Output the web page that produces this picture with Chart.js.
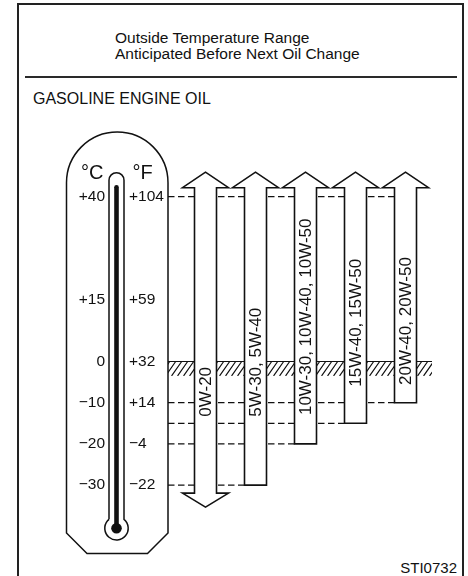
<!DOCTYPE html>
<html>
<head>
<meta charset="utf-8">
<title>Gasoline Engine Oil Viscosity</title>
<script src="https://cdn.jsdelivr.net/npm/chart.js@4.4.1/dist/chart.umd.min.js"></script>
<style>
  html, body { margin: 0; padding: 0; background: #fff; }
  body {
    width: 468px; height: 576px; position: relative; overflow: hidden;
    font-family: "Liberation Sans", Arial, Helvetica, sans-serif; color: #111;
  }
  .frame { position: absolute; left: 17px; top: 3px; width: 443px; height: 640px; border: 2px solid #222; }
  .rule { position: absolute; left: 25px; top: 76px; width: 432px; height: 0; border-top: 2px solid #2a2a2a; }
  .heading { position: absolute; left: 115px; top: 30.2px; font-size: 15.5px; line-height: 16.3px; white-space: nowrap; }
  .section { position: absolute; left: 33px; top: 90.5px; font-size: 16px; line-height: 16px; white-space: nowrap; }
  .code { position: absolute; right: 11px; top: 559.6px; font-size: 15px; line-height: 15px; }
  #chart { position: absolute; left: 0; top: 0; }
</style>
</head>
<body>
<div class="frame"></div>
<div class="heading">Outside Temperature Range<br>Anticipated Before Next Oil Change</div>
<div class="rule"></div>
<div class="section">GASOLINE ENGINE OIL</div>
<div class="code">STI0732</div>
<canvas id="chart" width="468" height="576"></canvas>

<script>
// Oil grades and the temperature span (°C) each one covers
const grades = ['0W-20', '5W-30, 5W-40', '10W-30, 10W-40, 10W-50', '15W-40, 15W-50', '20W-40, 20W-50'];
const lowC = [-30, -30, -20, -15, -10];
const highC = [40, 40, 40, 40, 40];
const extendsBelow = [true, false, false, false, false];

// Thermometer scale
const celsiusTicks = [40, 15, 0, -10, -20, -30];
const fahrenheitTicks = [104, 59, 32, 14, -4, -22];

// Hatched band under the freezing point
const hatchBand = [0, -3.5];

// Where each grade label starts inside its arrow (°C)
const labelStartC = [-13.4, -13.4, -13.0, -6.1, -5.7];

const FONT = '"Liberation Sans", Arial, Helvetica, sans-serif';
const INK = '#111';

const THERMO = {
    left: 66.5, right: 168, shoulderY: 533, footY: 553.5, footInset: 20.5,
    tubeX: 116.5, tubeHalf: 7.5, tubeTop: 172.7, columnTop: 185, columnHalf: 2.3,
    bulbY: 528.3, bulbR: 11.7, dotR: 5.3
};

const fmt = v => v > 0 ? '+' + v : (v < 0 ? '\u2212' + Math.abs(v) : '0');

function drawThermometer(ctx) {
    const t = THERMO;
    const cx = (t.left + t.right) / 2;
    const r = (t.right - t.left) / 2;
    const archY = 132 + r;

    ctx.save();
    ctx.strokeStyle = INK;
    ctx.lineWidth = 1.5;

    // body outline
    ctx.beginPath();
    ctx.moveTo(t.left, t.shoulderY);
    ctx.lineTo(t.left, archY);
    ctx.arc(cx, archY, r, Math.PI, 2 * Math.PI);
    ctx.lineTo(t.right, t.shoulderY);
    ctx.lineTo(t.right - t.footInset, t.footY);
    ctx.lineTo(t.left + t.footInset, t.footY);
    ctx.closePath();
    ctx.stroke();

    // glass tube and bulb
    const h = t.tubeHalf;
    const dy = Math.sqrt(t.bulbR * t.bulbR - h * h);
    const a = Math.atan2(-dy, h);
    ctx.beginPath();
    ctx.moveTo(t.tubeX - h, t.bulbY - dy);
    ctx.lineTo(t.tubeX - h, t.tubeTop + h);
    ctx.arc(t.tubeX, t.tubeTop + h, h, Math.PI, 2 * Math.PI);
    ctx.lineTo(t.tubeX + h, t.bulbY - dy);
    ctx.arc(t.tubeX, t.bulbY, t.bulbR, a, Math.PI - a);
    ctx.stroke();

    // mercury column
    ctx.fillStyle = INK;
    ctx.beginPath();
    ctx.arc(t.tubeX, t.columnTop + t.columnHalf, t.columnHalf, Math.PI, 2 * Math.PI);
    ctx.lineTo(t.tubeX + t.columnHalf, t.bulbY);
    ctx.lineTo(t.tubeX - t.columnHalf, t.bulbY);
    ctx.closePath();
    ctx.fill();
    ctx.beginPath();
    ctx.arc(t.tubeX, t.bulbY, t.dotR, 0, 2 * Math.PI);
    ctx.fill();

    // unit headings
    ctx.font = '20px ' + FONT;
    ctx.textBaseline = 'middle';
    ctx.textAlign = 'right';
    ctx.fillText('\u00B0C', 103.5, 173);
    ctx.textAlign = 'left';
    ctx.fillText('\u00B0F', 132.5, 173);
    ctx.restore();
}

const oilDiagram = {
    id: 'oilDiagram',
    beforeDatasetsDraw(chart) {
        const { ctx, chartArea, scales: { y } } = chart;
        const bars = chart.getDatasetMeta(0).data;
        const x0 = THERMO.right;
        const xEnd = chartArea.right + 1.5;

        drawThermometer(ctx);

        // hatched band below 0 °C
        const yTop = y.getPixelForValue(hatchBand[0]);
        const yBot = y.getPixelForValue(hatchBand[1]);
        const bh = yBot - yTop;
        ctx.save();
        ctx.beginPath();
        ctx.rect(x0, yTop, xEnd - x0, bh);
        ctx.clip();
        ctx.strokeStyle = INK;
        ctx.lineWidth = 1.2;
        ctx.beginPath();
        for (let x = x0 - bh; x < xEnd + bh; x += 6) {
            ctx.moveTo(x, yBot);
            ctx.lineTo(x + bh * 0.7, yTop);
        }
        ctx.stroke();
        ctx.restore();

        ctx.save();
        ctx.strokeStyle = INK;
        ctx.lineWidth = 1.2;
        ctx.beginPath();
        ctx.moveTo(x0, yTop);
        ctx.lineTo(xEnd, yTop);
        ctx.stroke();

        // dashed guides from the thermometer to each arrow's limit
        const reach = {};
        bars.forEach((bar, i) => {
            const left = bar.x - bar.width / 2;
            reach[highC[i]] = Math.max(reach[highC[i]] || 0, left);
            if (!extendsBelow[i]) reach[lowC[i]] = Math.max(reach[lowC[i]] || 0, left);
        });
        ctx.setLineDash([6.5, 3.5]);
        ctx.lineWidth = 1.3;
        Object.keys(reach).forEach(v => {
            const py = y.getPixelForValue(Number(v));
            ctx.beginPath();
            ctx.moveTo(x0, py);
            ctx.lineTo(reach[v], py);
            ctx.stroke();
        });
        ctx.restore();
    },
    afterDatasetsDraw(chart) {
        const { ctx, scales: { y } } = chart;
        const bars = chart.getDatasetMeta(0).data;
        ctx.save();
        ctx.strokeStyle = INK;
        ctx.lineWidth = 1.6;
        ctx.lineJoin = 'miter';
        bars.forEach((bar, i) => {
            const cx = bar.x;
            const hw = bar.width / 2;
            const top = Math.min(bar.y, bar.base);
            const bot = Math.max(bar.y, bar.base);
            const shaftTop = top - 9;
            const shaftBot = extendsBelow[i] ? bot + 8 : bot;
            const headHalf = 23;

            ctx.beginPath();
            ctx.moveTo(cx - hw, shaftBot);
            ctx.lineTo(cx - hw, shaftTop);
            ctx.lineTo(cx - headHalf, shaftTop);
            ctx.lineTo(cx, shaftTop - 15.5);
            ctx.lineTo(cx + headHalf, shaftTop);
            ctx.lineTo(cx + hw, shaftTop);
            ctx.lineTo(cx + hw, shaftBot);
            if (extendsBelow[i]) {
                ctx.lineTo(cx + headHalf, shaftBot);
                ctx.lineTo(cx, shaftBot + 14);
                ctx.lineTo(cx - headHalf, shaftBot);
            }
            ctx.closePath();
            ctx.fillStyle = '#fff';
            ctx.fill();
            ctx.stroke();

            // grade label, reading upwards
            ctx.save();
            ctx.translate(cx + 0.5, y.getPixelForValue(labelStartC[i]));
            ctx.rotate(-Math.PI / 2);
            ctx.fillStyle = INK;
            ctx.font = '17px ' + FONT;
            ctx.textAlign = 'left';
            ctx.textBaseline = 'middle';
            ctx.fillText(grades[i], 0, 0);
            ctx.restore();
        });
        ctx.restore();
    }
};

const tempAxis = (weight, width, extra) => Object.assign({
    type: 'linear',
    position: 'left',
    min: -40,
    max: 50,
    weight: weight,
    grid: { display: false, drawTicks: false },
    border: { display: false },
    afterBuildTicks: scale => { scale.ticks = celsiusTicks.map(v => ({ value: v })); },
    afterFit: scale => { scale.width = width; }
}, extra);

Chart.defaults.font.family = FONT;
Chart.defaults.color = INK;

new Chart(document.getElementById('chart'), {
    type: 'bar',
    data: {
        labels: grades,
        datasets: [{
            label: 'Temperature range',
            data: grades.map((g, i) => [lowC[i], highC[i]]),
            backgroundColor: 'rgba(0,0,0,0)',
            borderWidth: 0,
            barPercentage: 0.44,
            categoryPercentage: 1
        }]
    },
    options: {
        responsive: false,
        animation: false,
        events: [],
        layout: { padding: { top: 155.5, bottom: 49.7, left: 0, right: 37.5 } },
        plugins: {
            legend: { display: false },
            tooltip: { enabled: false }
        },
        scales: {
            x: { display: false, offset: true },
            y: tempAxis(1, 129, {
                ticks: { padding: 24, autoSkip: false, font: { size: 15.5 }, callback: v => fmt(v) }
            }),
            yF: tempAxis(0, 51.5, {
                ticks: { padding: 0, crossAlign: 'far', autoSkip: false, font: { size: 15.5 },
                    callback: (v, i) => fmt(fahrenheitTicks[i]) }
            })
        }
    },
    plugins: [oilDiagram]
});
</script>
</body>
</html>
